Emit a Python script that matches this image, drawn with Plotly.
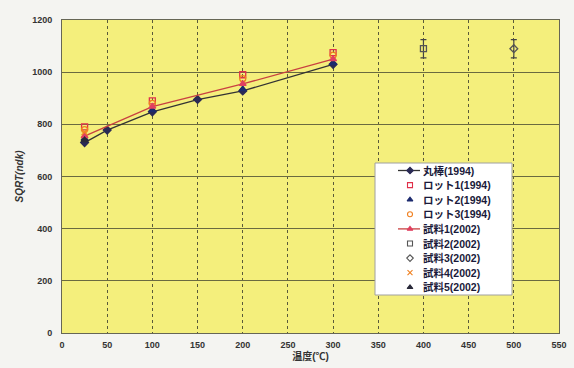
import plotly.graph_objects as go

temps_a = [25, 50, 100, 150, 200, 300]
marubou_1994 = [730, 778, 848, 895, 928, 1030]

temps_b = [25, 100, 200, 300]
lot1_1994 = [790, 890, 990, 1075]
lot2_1994 = [745, 855, 935, 1035]
lot3_1994 = [780, 880, 975, 1065]
sample1_2002 = [755, 868, 955, 1050]

temps_s2 = [400]
sample2_2002 = [1090]
sample2_err = [35]
temps_s3 = [500]
sample3_2002 = [1090]
sample3_err = [35]
temps_s4 = [25]
sample4_2002 = [770]
temps_s5 = [25]
sample5_2002 = [740]

x_ticks = [0, 50, 100, 150, 200, 250, 300, 350, 400, 450, 500, 550]
y_ticks = [0, 200, 400, 600, 800, 1000, 1200]

# series styles: name, x, y, err, mode, symbol, color, line color
series = [
    ("丸棒(1994)", temps_a, marubou_1994, None, "lines+markers", "diamond", "#2a2a55", "#333333"),
    ("ロット1(1994)", temps_b, lot1_1994, None, "markers", "square-open", "#e0304a", None),
    ("ロット2(1994)", temps_b, lot2_1994, None, "markers", "triangle-up", "#1c2a6e", None),
    ("ロット3(1994)", temps_b, lot3_1994, None, "markers", "circle-open", "#f08020", None),
    ("試料1(2002)", temps_b, sample1_2002, None, "lines+markers", "triangle-up", "#e04060", "#c84040"),
    ("試料2(2002)", temps_s2, sample2_2002, sample2_err, "markers", "square-open", "#555555", None),
    ("試料3(2002)", temps_s3, sample3_2002, sample3_err, "markers", "diamond-open", "#555555", None),
    ("試料4(2002)", temps_s4, sample4_2002, None, "markers", "x-thin-open", "#f08020", None),
    ("試料5(2002)", temps_s5, sample5_2002, None, "markers", "triangle-up", "#2a2a3a", None),
]

fig = go.Figure()
for name, xs, ys, err, mode, sym, col, lcol in series:
    kw = {}
    if err is not None:
        kw["error_y"] = dict(type="data", array=err, color="#444444", thickness=1.2, width=3)
    fig.add_trace(go.Scatter(
        x=xs, y=ys, name=name, mode=mode, showlegend=False,
        line=dict(color=lcol or col, width=1.3),
        marker=dict(symbol=sym, size=6, color=col, line=dict(width=1.3, color=col)),
        **kw))

# custom compact legend (overlay axes in pixel units of the plot area)
L_LEFT, L_RIGHT, L_TOP, L_BOTTOM = 375, 512, 163, 295
ROW0, ROW_STEP = 170.5, 14.6
MARK_X, LINE_X0, LINE_X1, TEXT_X = 410, 398, 420, 421

fig.add_trace(go.Scatter(
    x=[L_LEFT, L_RIGHT, L_RIGHT, L_LEFT, L_LEFT],
    y=[L_TOP, L_TOP, L_BOTTOM, L_BOTTOM, L_TOP],
    xaxis="x2", yaxis="y2", mode="lines", fill="toself",
    fillcolor="#ffffff", line=dict(color="#a0a0a0", width=1),
    showlegend=False, hoverinfo="skip"))

annotations = []
for i, (name, xs, ys, err, mode, sym, col, lcol) in enumerate(series):
    ry = ROW0 + i * ROW_STEP
    if "lines" in mode:
        fig.add_trace(go.Scatter(
            x=[LINE_X0, LINE_X1], y=[ry, ry], xaxis="x2", yaxis="y2",
            mode="lines", line=dict(color=lcol, width=1.3),
            showlegend=False, hoverinfo="skip"))
    fig.add_trace(go.Scatter(
        x=[MARK_X], y=[ry], xaxis="x2", yaxis="y2", mode="markers",
        marker=dict(symbol=sym, size=5, color=col, line=dict(width=1.1, color=col)),
        showlegend=False, hoverinfo="skip"))
    annotations.append(dict(
        x=TEXT_X, y=ry, xref="x2", yref="y2", text=name, showarrow=False,
        xanchor="left", yanchor="middle",
        font=dict(size=10.5, color="#1a1a3a", weight="bold")))

font_family = "Liberation Sans, Arial, Noto Sans CJK JP"
fig.update_layout(
    width=574, height=368,
    margin=dict(l=62, r=15, t=20, b=35),
    paper_bgcolor="#f4f4f1",
    plot_bgcolor="#f4ef7c",
    font=dict(family=font_family, size=10, color="#333333"),
    showlegend=False,
    annotations=annotations,
    xaxis=dict(range=[0, 550], tickvals=x_ticks, showgrid=True, automargin=False,
               gridcolor="#5a5a3a", griddash="dot", gridwidth=1,
               showline=True, linecolor="#666655", mirror=True, zeroline=False,
               ticks="outside", ticklen=3, tickcolor="rgba(0,0,0,0)",
               tickfont=dict(size=9, weight="bold", color="#333333"),
               title=dict(text="温度(℃)", font=dict(size=10, weight="bold"), standoff=2)),
    yaxis=dict(range=[0, 1200], tickvals=y_ticks, showgrid=True, automargin=False,
               gridcolor="#6a6a40", gridwidth=1,
               showline=True, linecolor="#666655", mirror=True, zeroline=False,
               ticks="outside", ticklen=7, tickcolor="rgba(0,0,0,0)",
               tickfont=dict(size=9, weight="bold", color="#333333"),
               title=dict(text="<i>SQRT(ndk)</i>", font=dict(size=10, weight="bold"), standoff=6)),
    xaxis2=dict(overlaying="x", range=[62, 559], visible=False, fixedrange=True),
    yaxis2=dict(overlaying="y", range=[333, 20], visible=False, fixedrange=True),
)
fig.write_html("out.html")
